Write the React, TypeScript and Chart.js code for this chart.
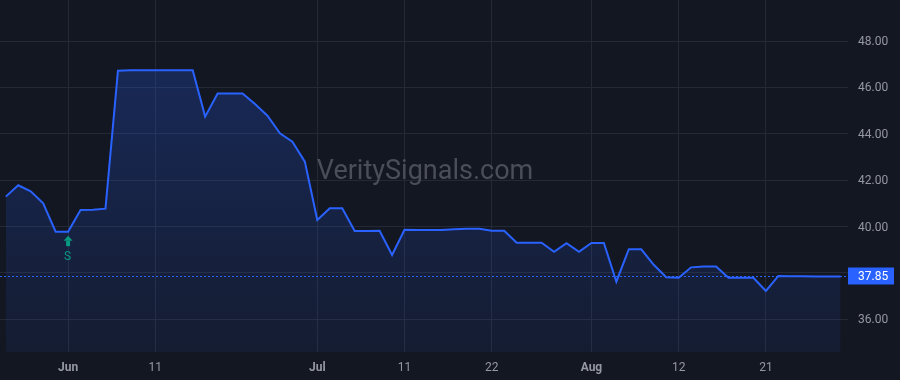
import React, { useEffect, useRef } from "react";
import { Chart, registerables } from "chart.js";

Chart.register(...registerables);

const dates = [
  "2025-05-23", "2025-05-27", "2025-05-28", "2025-05-29", "2025-05-30",
  "2025-06-02", "2025-06-03", "2025-06-04", "2025-06-05", "2025-06-06",
  "2025-06-09", "2025-06-10", "2025-06-11", "2025-06-12", "2025-06-13",
  "2025-06-16", "2025-06-17", "2025-06-18", "2025-06-20",
  "2025-06-23", "2025-06-24", "2025-06-25", "2025-06-26", "2025-06-27",
  "2025-06-30", "2025-07-01", "2025-07-02", "2025-07-03",
  "2025-07-07", "2025-07-08", "2025-07-09", "2025-07-10", "2025-07-11",
  "2025-07-14", "2025-07-15", "2025-07-16", "2025-07-17", "2025-07-18",
  "2025-07-21", "2025-07-22", "2025-07-23", "2025-07-24", "2025-07-25",
  "2025-07-28", "2025-07-29", "2025-07-30", "2025-07-31", "2025-08-01",
  "2025-08-04", "2025-08-05", "2025-08-06", "2025-08-07", "2025-08-08",
  "2025-08-11", "2025-08-12", "2025-08-13", "2025-08-14", "2025-08-15",
  "2025-08-18", "2025-08-19", "2025-08-20", "2025-08-21", "2025-08-22",
  "2025-08-25", "2025-08-26", "2025-08-27", "2025-08-28", "2025-08-29",
];

const prices = [
  41.29, 41.78, 41.52, 41.0, 39.78,
  39.78, 40.71, 40.72, 40.77, 46.72,
  46.74, 46.74, 46.74, 46.74, 46.74,
  46.74, 44.74, 45.74, 45.74,
  45.74, 45.28, 44.78, 44.02, 43.66,
  42.8, 40.28, 40.79, 40.79,
  39.81, 39.81, 39.82, 38.77, 39.86,
  39.85, 39.85, 39.85, 39.88, 39.9,
  39.9, 39.82, 39.82, 39.3, 39.3,
  39.3, 38.91, 39.28, 38.91, 39.29,
  39.29, 37.62, 39.02, 39.02, 38.35,
  37.81, 37.79, 38.24, 38.28, 38.28,
  37.79, 37.79, 37.79, 37.22, 37.87,
  37.86, 37.86, 37.85, 37.85, 37.85,
];

const tickDates = ["2025-06-02", "2025-06-11", "2025-07-01", "2025-07-11", "2025-07-22", "2025-08-01", "2025-08-12", "2025-08-21"];
const tickLabels = ["Jun", "11", "Jul", "11", "22", "Aug", "12", "21"];
const monthLabels = ["Jun", "Jul", "Aug"];
const yTicks = [36, 38, 40, 42, 44, 46, 48];
const hiddenYTicks = [38];
const lastPrice = 37.85;
const signalDates = ["2025-06-02"];
const signalLabels = ["S"];
const watermarkText = "VeritySignals.com";

const FONT = "Roboto, 'Liberation Sans', Arial, sans-serif";
const BG = "#131722";
const GRID = "#252935";
const TEXT = "#9598a1";
const BLUE = "#2962ff";
const GREEN = "#089981";

export default function App() {
  const ref = useRef<HTMLCanvasElement>(null);

  useEffect(() => {
    document.body.style.margin = "0";
    const canvas = ref.current!;
    const tickIdx = tickDates.map((d) => dates.indexOf(d));
    const labelFor = (v: number) => {
      const k = tickIdx.indexOf(Math.round(v));
      return k >= 0 ? tickLabels[k] : "";
    };

    const bgPlugin = {
      id: "bg",
      beforeDraw(chart: any) {
        const c = chart.ctx;
        c.save();
        c.fillStyle = BG;
        c.fillRect(0, 0, chart.width, chart.height);
        c.restore();
      },
    };

    const watermarkPlugin = {
      id: "watermark",
      beforeDatasetsDraw(chart: any) {
        const { ctx: c, chartArea: a } = chart;
        c.save();
        c.font = `27px ${FONT}`;
        c.fillStyle = "#4a4e59";
        c.textAlign = "center";
        c.textBaseline = "middle";
        c.fillText(watermarkText, (a.left + a.right) / 2 + 1, (a.top + a.bottom) / 2 - 4);
        c.restore();
      },
    };

    const overlayPlugin = {
      id: "overlay",
      afterDatasetsDraw(chart: any) {
        const { ctx: c, chartArea: a, scales } = chart;
        const x = scales.x;
        const y = scales.y;
        const py = Math.round(y.getPixelForValue(lastPrice)) + 0.5;
        c.save();
        c.strokeStyle = BLUE;
        c.lineWidth = 1;
        c.setLineDash([2, 2]);
        c.beginPath();
        c.moveTo(a.left, py);
        c.lineTo(a.right, py);
        c.stroke();
        c.restore();
        signalDates.forEach((d, k) => {
          const i = dates.indexOf(d);
          if (i < 0) return;
          const sx = x.getPixelForValue(i);
          const top = y.getPixelForValue(prices[i]) + 4;
          c.save();
          c.fillStyle = GREEN;
          c.beginPath();
          c.moveTo(sx, top);
          c.lineTo(sx - 4.5, top + 5);
          c.lineTo(sx + 4.5, top + 5);
          c.closePath();
          c.fill();
          c.fillRect(sx - 2, top + 5, 4, 5.5);
          c.font = `12px ${FONT}`;
          c.textAlign = "center";
          c.textBaseline = "middle";
          c.fillText(signalLabels[k], sx - 0.5, top + 21);
          c.restore();
        });
      },
      afterDraw(chart: any) {
        const { ctx: c, chartArea: a, scales } = chart;
        const y = scales.y;
        const py = y.getPixelForValue(lastPrice);
        c.save();
        c.fillStyle = BLUE;
        c.fillRect(a.right, Math.round(py) - 8.5, 46, 17);
        c.fillStyle = "#ffffff";
        c.font = `12px ${FONT}`;
        c.textAlign = "left";
        c.textBaseline = "middle";
        c.fillText(lastPrice.toFixed(2), a.right + 10, py + 1);
        c.restore();
      },
    };

    const chart = new Chart(canvas, {
      type: "line",
      data: {
        datasets: [
          {
            data: prices.map((p, i) => ({ x: i, y: p })),
            borderColor: BLUE,
            borderWidth: 2,
            pointRadius: 0,
            tension: 0,
            fill: "start",
            backgroundColor: (ctx: any) => {
              const { chart: ch } = ctx;
              const area = ch.chartArea;
              if (!area) return "rgba(41,98,255,0.15)";
              const g = ch.ctx.createLinearGradient(0, area.top, 0, area.bottom);
              g.addColorStop(0, "rgba(41,98,255,0.28)");
              g.addColorStop(1, "rgba(41,98,255,0.07)");
              return g;
            },
          },
        ],
      },
      options: {
        responsive: false,
        animation: false,
        devicePixelRatio: 1,
        layout: { padding: 0 },
        plugins: { legend: { display: false }, tooltip: { enabled: false } },
        scales: {
          x: {
            type: "linear",
            min: -0.465,
            max: 67.59,
            border: { display: false },
            grid: { color: GRID, drawTicks: false, lineWidth: 1 },
            afterBuildTicks: (s: any) => {
              s.ticks = tickIdx.map((v) => ({ value: v }));
            },
            afterFit: (s: any) => {
              s.height = 28;
              s.paddingLeft = 0;
              s.paddingRight = 0;
            },
            ticks: {
              autoSkip: false,
              maxRotation: 0,
              padding: 9,
              color: TEXT,
              font: (ctx: any) => ({
                family: FONT,
                size: 12,
                weight: monthLabels.includes(labelFor(ctx.tick ? ctx.tick.value : -1)) ? "bold" : "normal",
              }),
              callback: (v: any) => labelFor(Number(v)),
            },
          },
          y: {
            type: "linear",
            position: "right",
            min: 34.59,
            max: 49.768,
            border: { display: false },
            grid: { color: GRID, drawTicks: false, lineWidth: 1 },
            afterBuildTicks: (s: any) => {
              s.ticks = yTicks.map((v) => ({ value: v }));
            },
            afterFit: (s: any) => {
              s.width = 52;
              s.paddingTop = 0;
              s.paddingBottom = 0;
            },
            ticks: {
              padding: 10,
              labelOffset: 1,
              color: TEXT,
              font: { family: FONT, size: 12 },
              callback: (v: any) => (hiddenYTicks.includes(Number(v)) ? "" : Number(v).toFixed(2)),
            },
          },
        },
      } as any,
      plugins: [bgPlugin, watermarkPlugin, overlayPlugin],
    });

    return () => chart.destroy();
  }, []);

  return (
    <div style={{ position: "absolute", left: 0, top: 0, width: 900, height: 380, background: BG }}>
      <canvas ref={ref} width={900} height={380} style={{ display: "block" }} />
    </div>
  );
}
